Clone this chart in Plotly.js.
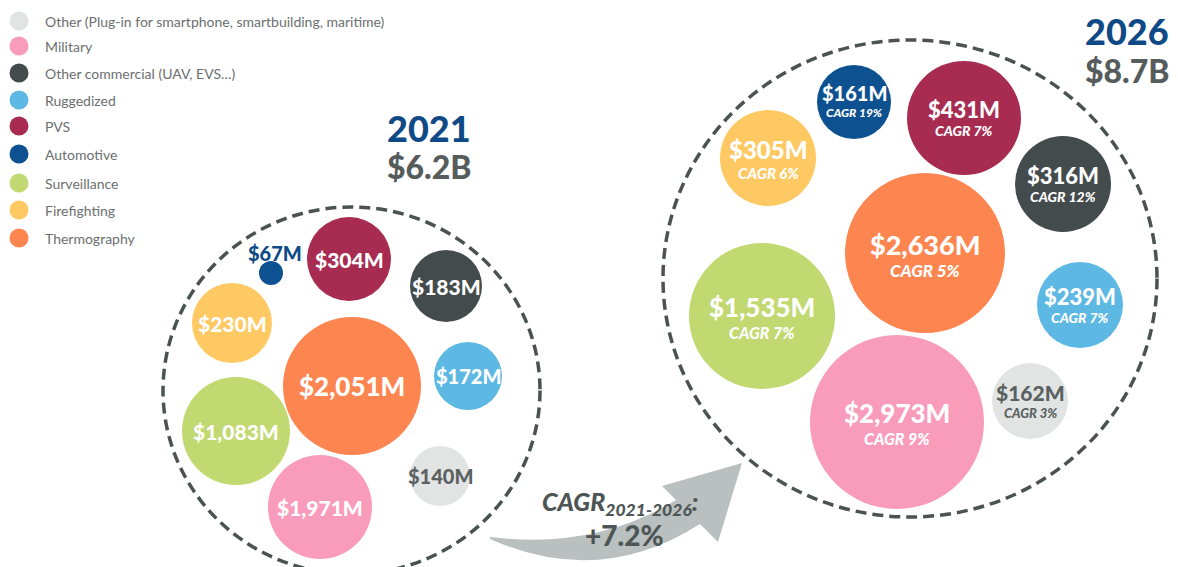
<!DOCTYPE html>
<html><head><meta charset="utf-8">
<script src="https://cdn.plot.ly/plotly-3.0.1.min.js"></script>
<style>html,body{margin:0;padding:0;background:#fff}#chart{width:1178px;height:567px}</style>
</head><body><div id="chart"></div>
<script>
// ---------- DATA ----------
const categories = [
  'Other (Plug-in for smartphone, smartbuilding, maritime)',
  'Military',
  'Other commercial (UAV, EVS\u2026)',
  'Ruggedized',
  'PVS',
  'Automotive',
  'Surveillance',
  'Firefighting',
  'Thermography'
];
const values2021 = [140, 1971, 183, 172, 304, 67, 1083, 230, 2051];   // $M
const values2026 = [162, 2973, 316, 239, 431, 161, 1535, 305, 2636];  // $M
const cagr2026   = [3, 9, 12, 7, 7, 19, 7, 6, 5];                     // %
const years = ['2021', '2026'];
const totals = [6.2, 8.7];            // $B
const cagrPeriod = '2021-2026';
const cagrTotal = 7.2;                // %

// ---------- STYLE / LAYOUT (not data) ----------
const colors = ['#e1e4e3', '#f99bbb', '#444b4c', '#5db8e3', '#a82b51', '#0e5190', '#c1d970', '#fec962', '#fd8550'];
const labelColors = ['#5b6161', '#ffffff', '#ffffff', '#ffffff', '#ffffff', '#0e4a86', '#ffffff', '#ffffff', '#ffffff'];
// packed-bubble placement (pixel space), radii in px
const pack2021 = {
  x: [440, 320, 446, 468, 349, 271, 236, 232, 352],
  y: [476, 507, 286, 376, 259, 273, 431, 323, 386],
  r: [30, 52, 36, 34, 42, 12, 54, 40, 69],
  font: [20, 21, 21, 20, 21, 20, 21, 21, 26]
};
const pack2026 = {
  x: [1030, 897, 1063, 1080, 964, 854, 762, 768, 925],
  y: [401, 422, 184, 305, 118, 102, 316, 158, 253],
  r: [38, 87, 48, 43, 57, 37, 73, 48, 80],
  font: [21, 26, 22, 22, 22, 20, 26, 24, 27],
  sub: [13, 16, 14, 14, 14, 12, 16, 15, 17]
};
const legendX = 19, legendTextX = 43;
const legendY = [21, 46, 73, 100, 126, 154, 183, 210, 238];
const FONT = 'Lato, "Open Sans", sans-serif';
const navy = '#0f4a86', gray = '#565c5c';

const fmt = v => '$' + v.toLocaleString('en-US') + 'M';

const traces = [
  { type: 'scatter', mode: 'markers', x: legendY.map(() => legendX), y: legendY,
    marker: { size: 19, color: colors, line: { width: 0 } }, hoverinfo: 'skip' },
  { type: 'scatter', mode: 'markers', x: pack2021.x, y: pack2021.y,
    text: values2021.map(fmt),
    marker: { size: pack2021.r.map(r => 2 * r), sizemode: 'diameter', color: colors, opacity: 1, line: { width: 0 } },
    hoverinfo: 'text' },
  { type: 'scatter', mode: 'markers', x: pack2026.x, y: pack2026.y,
    text: values2026.map(fmt),
    marker: { size: pack2026.r.map(r => 2 * r), sizemode: 'diameter', color: colors, opacity: 1, line: { width: 0 } },
    hoverinfo: 'text' }
];

const ann = [];
// legend text
categories.forEach((c, i) => ann.push({ x: legendTextX, y: legendY[i], xref: 'x', yref: 'y', text: c,
  showarrow: false, xanchor: 'left', yanchor: 'middle', font: { family: FONT, size: 14, color: '#6b6f70' } }));
// 2021 labels
values2021.forEach((v, i) => {
  let x = pack2021.x[i], y = pack2021.y[i];
  if (pack2021.r[i] < 20) { x += 4; y -= 20; }   // tiny bubble: label sits above
  ann.push({ x: x, y: y, xref: 'x', yref: 'y', text: fmt(v), showarrow: false,
    xanchor: 'center', yanchor: 'middle', borderpad: 0,
    font: { family: FONT, size: pack2021.font[i], color: labelColors[i], weight: 900 } });
});
// 2026 labels
values2026.forEach((v, i) => {
  const c = labelColors[i] === '#0e4a86' ? '#ffffff' : labelColors[i];
  const f = pack2026.font[i], s = pack2026.sub[i];
  const yv = pack2026.y[i] - 9;
  ann.push({ x: pack2026.x[i], y: yv, xref: 'x', yref: 'y', text: fmt(v), showarrow: false,
    xanchor: 'center', yanchor: 'middle', borderpad: 0,
    font: { family: FONT, size: f, color: c, weight: 900 } });
  ann.push({ x: pack2026.x[i], y: yv + 0.6 * f + 0.55 * s + 1, xref: 'x', yref: 'y',
    text: 'CAGR ' + cagr2026[i] + '%', showarrow: false, xanchor: 'center', yanchor: 'middle', borderpad: 0,
    font: { family: FONT, size: s, color: c, weight: 900, style: 'italic' } });
});
// year titles
const titlePos = [{ x: 385, y1: 128, y2: 166 }, { x: 1083, y1: 31, y2: 70 }];
years.forEach((yr, i) => {
  ann.push({ x: titlePos[i].x, y: titlePos[i].y1, xref: 'x', yref: 'y', text: yr, showarrow: false,
    xanchor: 'left', yanchor: 'middle', font: { family: FONT, size: 36, color: navy, weight: 900 } });
  ann.push({ x: titlePos[i].x, y: titlePos[i].y2, xref: 'x', yref: 'y', text: '$' + totals[i].toFixed(1) + 'B', showarrow: false,
    xanchor: 'left', yanchor: 'middle', font: { family: FONT, size: 32, color: gray, weight: 900 } });
});
// overall CAGR label
ann.push({ x: 620, y: 503, xref: 'x', yref: 'y', text: 'CAGR<sub>' + cagrPeriod + '</sub>:', showarrow: false,
  xanchor: 'center', yanchor: 'middle', font: { family: FONT, size: 25, color: '#4e5555', weight: 900, style: 'italic' } });
ann.push({ x: 624, y: 535, xref: 'x', yref: 'y', text: '+' + cagrTotal.toFixed(1) + '%', showarrow: false,
  xanchor: 'center', yanchor: 'middle', font: { family: FONT, size: 28, color: '#4e5555', weight: 900 } });

const shapes = [
  { type: 'circle', xref: 'x', yref: 'y', x0: 163, x1: 540, y0: 207, y1: 574, layer: 'below',
    line: { color: '#4b5252', width: 3.5, dash: '11px,6px' } },
  { type: 'circle', xref: 'x', yref: 'y', x0: 663, x1: 1157, y0: 40, y1: 517, layer: 'below',
    line: { color: '#4b5252', width: 3.5, dash: '11px,6px' } },
  { type: 'path', xref: 'x', yref: 'y', layer: 'below',
    path: 'M 490 537 Q 595 550 676 500 L 662 486 L 742 463 L 718 542 L 700 524 Q 600 588 490 539 Z',
    fillcolor: '#b9c0bf', line: { width: 0 } }
];

const layout = {
  width: 1178, height: 567,
  margin: { l: 0, r: 0, t: 0, b: 0 },
  paper_bgcolor: '#ffffff', plot_bgcolor: '#ffffff',
  showlegend: false,
  xaxis: { range: [0, 1178], visible: false, fixedrange: true },
  yaxis: { range: [567, 0], visible: false, fixedrange: true },
  annotations: ann, shapes: shapes,
  font: { family: FONT }
};
Plotly.newPlot('chart', traces, layout, { displayModeBar: false, staticPlot: true });
</script></body></html>
